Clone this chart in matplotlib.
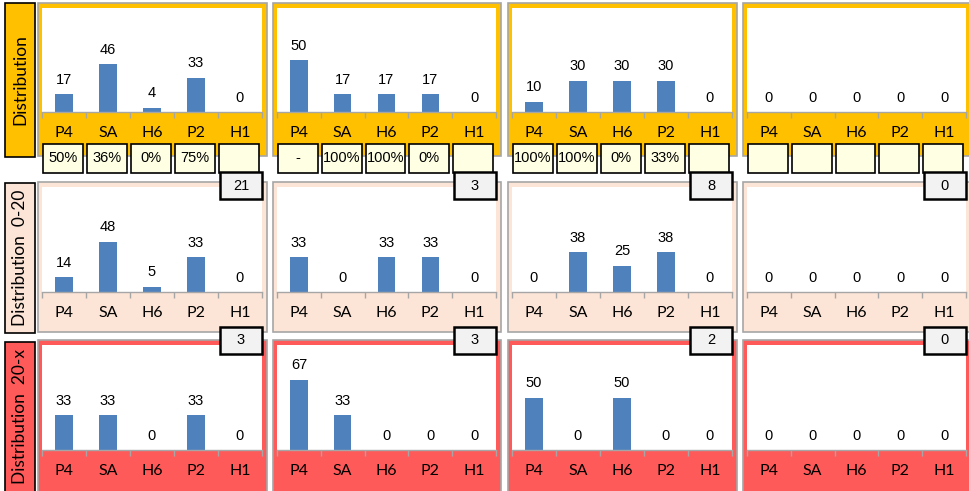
import matplotlib
matplotlib.use("Agg")
import matplotlib.pyplot as plt
from matplotlib.patches import Rectangle

# ---------------- data ----------------
categories = ["P4", "SA", "H6", "P2", "H1"]
row_titles = ["Distribution", "Distribution  0-20", "Distribution  20-x"]

dist_all = [[17, 46, 4, 33, 0],
            [50, 17, 17, 17, 0],
            [10, 30, 30, 30, 0],
            [0, 0, 0, 0, 0]]
dist_0_20 = [[14, 48, 5, 33, 0],
             [33, 0, 33, 33, 0],
             [0, 38, 25, 38, 0],
             [0, 0, 0, 0, 0]]
dist_20_x = [[33, 33, 0, 33, 0],
             [67, 33, 0, 0, 0],
             [50, 0, 50, 0, 0],
             [0, 0, 0, 0, 0]]
rows_data = [dist_all, dist_0_20, dist_20_x]

pct_labels = [["50%", "36%", "0%", "75%", ""],
              ["-", "100%", "100%", "0%", ""],
              ["100%", "100%", "0%", "33%", ""],
              ["", "", "", "", ""]]
count_0_20 = [21, 3, 8, 0]
count_20_x = [3, 3, 2, 0]

# ---------------- style ----------------
W, H = 970, 491
row_colors = ["#FFC000", "#FCE4D6", "#FF5A5A"]
bar_color = "#4F81BD"
gray = "#A6A6A6"

fig = plt.figure(figsize=(W / 100, H / 100), dpi=100)
fig.patch.set_facecolor("white")


def fx(x):
    return x / W


def fy(y):
    return 1 - y / H


def frect(x0, y0, x1, y1, **kw):
    r = Rectangle((fx(x0), fy(y1)), fx(x1) - fx(x0), fy(y0) - fy(y1),
                  transform=fig.transFigure, **kw)
    fig.add_artist(r)
    return r


cols_x = [(38, 267), (273, 501), (508, 737), (743, 971)]
rows_y = [(3, 156), (182, 332), (340, 493)]
baselines = [112, 292, 450]
label_boxes = [(3, 157), (183, 333), (342, 493)]

ax_geo = {}
for r, (y0, y1) in enumerate(rows_y):
    # row title box
    ly0, ly1 = label_boxes[r]
    frect(5, ly0, 35, ly1, facecolor=row_colors[r], edgecolor="black",
          linewidth=1.2, zorder=1)
    fig.text(fx(20.5), fy((ly0 + min(ly1, 491)) / 2), row_titles[r],
             rotation=90, ha="center", va="center", fontsize=12.5,
             family=["Lato", "DejaVu Sans"], color="black", zorder=2)
    for c, (x0, x1) in enumerate(cols_x):
        frect(x0, y0, x1, y1, facecolor=row_colors[r], edgecolor=gray,
              linewidth=1.2, zorder=-2)
        axl, axr = x0 + 4, x1 - 5
        axt, axb = y0 + 5, baselines[r]
        ax = fig.add_axes([fx(axl), fy(axb), fx(axr) - fx(axl), fy(axt) - fy(axb)])
        ax.set_zorder(1)
        ax_geo[(r, c)] = (axl, axr)
        ax.set_facecolor("white")
        vals = rows_data[r][c]
        xs = list(range(len(categories)))
        ax.bar(xs, vals, width=0.4, color=bar_color, zorder=2)
        for xi, v in zip(xs, vals):
            ax.annotate(str(v), (xi, v), xytext=(0, 7.5), textcoords="offset points",
                        ha="center", va="baseline", fontsize=10.5,
                        family=["Liberation Sans", "DejaVu Sans"])
        ax.set_xlim(-0.5, 4.5)
        ax.set_ylim(0, 100)
        for s in ["top", "left", "right"]:
            ax.spines[s].set_visible(False)
        ax.spines["bottom"].set_color(gray)
        ax.spines["bottom"].set_linewidth(1.0)
        ax.set_yticks([])
        ax.set_xticks(xs)
        ax.set_xticklabels(categories, fontsize=11.5, family=["Lato", "DejaVu Sans"])
        ax.set_xticks([i - 0.5 for i in range(6)], minor=True)
        ax.tick_params(axis="x", which="major", length=0, pad=10)
        ax.tick_params(axis="x", which="minor", length=4, color=gray, width=1.0)

# percentage boxes below row 1
for c in range(4):
    axl, axr = ax_geo[(0, c)]
    w = (axr - axl) / 5
    for i in range(5):
        bx0 = axl + i * w + 1
        bx1 = bx0 + w - 4
        frect(bx0, 144, bx1, 173, facecolor="#FFFFE3", edgecolor="black",
              linewidth=1.2, zorder=5)
        fig.text(fx((bx0 + bx1) / 2), fy(158.5), pct_labels[c][i], ha="center",
                 va="center", fontsize=10.5, family=["Liberation Sans", "DejaVu Sans"],
                 zorder=6)

# count boxes
for c, (x0, x1) in enumerate(cols_x):
    for (yb0, yb1), val in [((172, 199), count_0_20[c]), ((327, 354), count_20_x[c])]:
        frect(x1 - 47, yb0, x1 - 5, yb1, facecolor="#F2F2F2", edgecolor="black",
              linewidth=1.8, zorder=5)
        fig.text(fx(x1 - 26), fy((yb0 + yb1) / 2), str(val), ha="center", va="center",
                 fontsize=10.5, family=["Liberation Sans", "DejaVu Sans"], zorder=6)

fig.savefig("out.png", dpi=100, facecolor="white")
